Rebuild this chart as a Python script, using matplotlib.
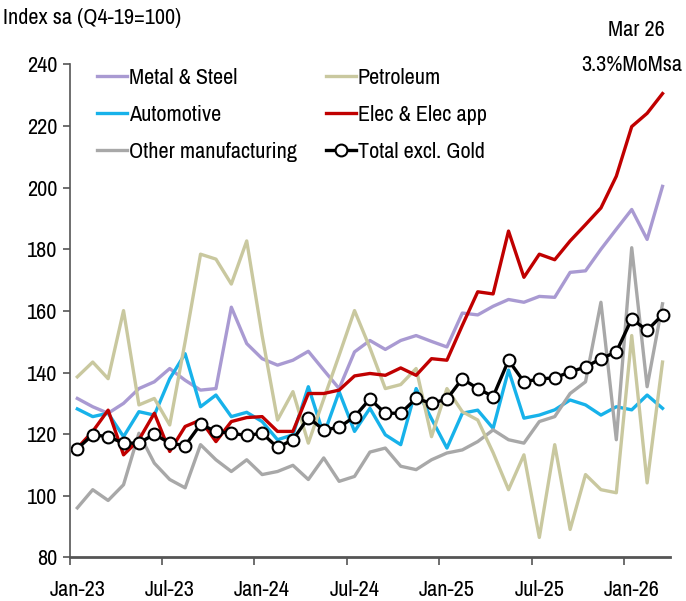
import matplotlib.pyplot as plt
from matplotlib import font_manager
import numpy as np

# mesecni podaci Jan-23 .. Mar-26 (39 meseci)
tick_labels = ["Jan-23", "Jul-23", "Jan-24", "Jul-24", "Jan-25", "Jul-25", "Jan-26"]

metal = [131.6, 128.9, 126.8, 130.0, 134.8, 137.0, 141.3, 137.5, 134.3, 134.8,
         161.2, 149.4, 144.5, 142.4, 144.0, 146.9, 140.8, 134.8, 146.7,
         150.4, 147.5, 150.4, 152.0, 150.1, 148.3, 159.3, 158.7, 161.5,
         163.7, 162.8, 164.7, 164.4, 172.5, 173.0, 180.0, 186.5, 192.9, 183.2, 200.4]
petroleum = [138.6, 143.4, 138.0, 160.1, 129.5, 131.6, 123.0, 150.0, 178.4, 176.8,
             168.7, 182.7, 152.0, 124.6, 133.8, 117.1, 131.4, 145.6, 160.1,
             148.0, 134.8, 136.1, 141.3, 119.2, 134.8, 127.3, 124.6, 114.0,
             102.0, 113.3, 86.5, 116.6, 89.1, 106.9, 102.0, 101.0, 152.0, 104.2, 143.4]
auto = [128.2, 125.7, 126.8, 119.2, 127.3, 126.2, 138.0, 146.1, 128.9, 132.7,
        125.7, 127.1, 124.1, 118.2, 119.8, 135.4, 119.8, 133.8, 120.9,
        128.4, 119.8, 116.6, 134.8, 125.0, 115.5, 126.8, 127.8, 121.9,
        140.8, 125.2, 126.2, 127.9, 131.1, 129.5, 126.2, 128.9, 127.9, 132.7, 128.4]
elec = [115.5, 120.9, 127.8, 113.3, 118.2, 126.8, 114.4, 122.5, 124.6, 117.6,
        124.1, 125.4, 125.7, 120.9, 120.9, 133.2, 133.2, 134.3, 138.9,
        139.7, 139.1, 141.5, 139.1, 144.5, 144.0, 155.3, 166.2, 165.5,
        185.9, 170.9, 178.4, 176.6, 182.7, 188.0, 193.4, 203.7, 219.8, 224.1, 230.5]
other = [96.1, 102.0, 98.5, 103.6, 120.3, 110.6, 105.3, 102.6, 116.6, 111.7,
         107.9, 111.7, 106.9, 107.9, 109.9, 105.3, 112.3, 104.7, 106.3,
         114.2, 115.5, 109.6, 108.5, 111.7, 113.9, 114.9, 117.6, 121.4,
         118.2, 117.1, 124.1, 125.7, 133.2, 137.0, 162.8, 118.2, 180.5, 135.4, 162.3]
total = [115.3, 119.8, 119.2, 117.1, 117.1, 120.0, 117.1, 116.3, 123.2, 120.9,
         120.3, 119.6, 120.3, 115.7, 118.2, 125.4, 121.4, 122.2, 125.7,
         131.4, 126.8, 126.8, 131.6, 130.0, 131.4, 138.0, 134.8, 132.2,
         144.0, 137.0, 137.9, 138.3, 140.2, 141.8, 144.5, 146.7, 157.4, 153.7, 158.7]

# trazimo usku varijantu fonta (Arial Narrow stil), ako je nema uzimamo manji Liberation Sans
uski = None
for f in font_manager.fontManager.ttflist:
    if "Narrow" in f.name or "Condensed" in f.name:
        uski = f.name
        break
if uski is not None:
    plt.rcParams['font.family'] = [uski, 'DejaVu Sans']
    fs, fs_small = 16, 16
else:
    plt.rcParams['font.family'] = ['Liberation Sans', 'DejaVu Sans']
    fs, fs_small = 13.5, 13.5

x = np.arange(len(total))

fig = plt.figure(figsize=(6.86, 6.01), dpi=100)
ax = fig.add_axes([0.1015, 0.0724, 0.8755, 0.8206])

lw = 2.4
ax.plot(x, metal, color="#A99AD2", lw=lw, label="Metal & Steel")
ax.plot(x, auto, color="#17B2EA", lw=lw, label="Automotive")
ax.plot(x, other, color="#A8A8A8", lw=lw, label="Other manufacturing")
ax.plot(x, petroleum, color="#C9C89F", lw=lw, label="Petroleum")
ax.plot(x, elec, color="#C00000", lw=lw, label="Elec & Elec app")
ax.plot(x, total, color="black", lw=lw, marker="o", markersize=8.5,
        markerfacecolor="white", markeredgecolor="black", markeredgewidth=1.5,
        label="Total excl. Gold")

ax.set_xlim(-0.5, 38.5)
ax.set_ylim(80, 240)
ax.set_yticks(np.arange(80, 241, 20))

# zubci izmedju meseci, labele na samom mesecu
ax.set_xticks(np.arange(-0.5, 38, 6))
ax.set_xticklabels([])
ax.set_xticks(np.arange(0, 39, 6), minor=True)
ax.set_xticklabels(tick_labels, minor=True)
ax.tick_params(axis="x", which="minor", length=0, pad=16, labelsize=fs)
ax.tick_params(axis="x", which="major", length=6, width=1.2, color="#555555", direction="out")
ax.tick_params(axis="y", length=5, width=1.2, color="#555555", labelsize=fs, pad=4)

for s in ["top", "right"]:
    ax.spines[s].set_visible(False)
ax.spines["left"].set_color("#555555")
ax.spines["bottom"].set_color("#555555")
ax.spines["left"].set_linewidth(1.2)
ax.spines["bottom"].set_linewidth(2)

ax.legend(ncol=2, frameon=False, fontsize=fs, loc="upper left",
          bbox_to_anchor=(0.03, 1.01), handlelength=1.35, handletextpad=0.1,
          labelspacing=0.75, columnspacing=1.3, borderaxespad=0)

fig.text(0.005, 0.97, "Index sa (Q4-19=100)", fontsize=fs_small, va="center", ha="left")
fig.text(0.927, 0.95, "Mar 26", fontsize=fs_small, va="center", ha="center")
fig.text(0.921, 0.892, "3.3%MoMsa", fontsize=fs_small, va="center", ha="center")

plt.savefig("out.png", dpi=100)
